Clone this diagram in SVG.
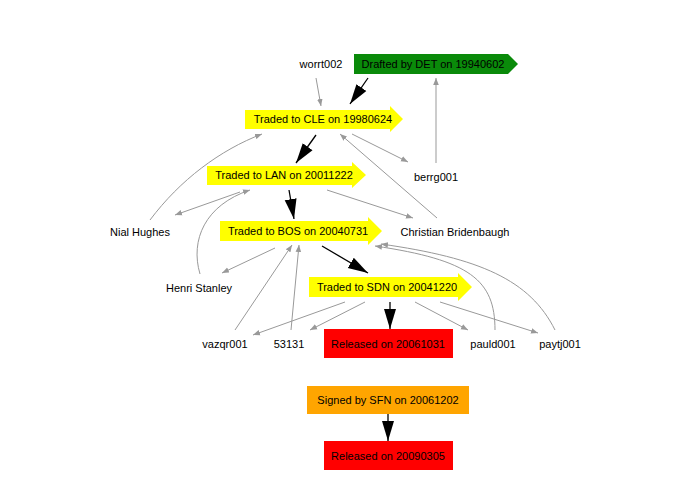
<svg xmlns="http://www.w3.org/2000/svg" width="695" height="494" viewBox="0 0 695 494">
<defs>
<style>
text{font-family:"Liberation Sans",Arial,sans-serif;font-size:11px;fill:#000;text-anchor:middle}
.t{stroke:#999;stroke-width:1;fill:none;marker-end:url(#a)}
.k{stroke:#000;stroke-width:1.3;fill:none;marker-end:url(#b)}
</style>
<marker id="a" viewBox="0 0 10 10" refX="10" refY="5" markerWidth="7" markerHeight="7" orient="auto" markerUnits="userSpaceOnUse"><path d="M0,1 L10,5 L0,9z" fill="#999"/></marker>
<marker id="b" viewBox="0 0 10 10" refX="10" refY="5" markerWidth="20" markerHeight="20" orient="auto" markerUnits="userSpaceOnUse"><path d="M0,2 L10,5 L0,8z" fill="#000"/></marker>
</defs>
<rect width="695" height="494" fill="#fff"/>
<g id="edges">
<line class="t" x1="316" y1="78" x2="321" y2="106"/>
<line class="t" x1="352" y1="134" x2="408" y2="162"/>
<line class="t" x1="436" y1="163" x2="436" y2="78"/>
<line class="t" x1="437" y1="218" x2="340" y2="134"/>
<path class="t" d="M150,220 C180,180 220,150 262,134"/>
<line class="t" x1="327" y1="190" x2="413" y2="218"/>
<path class="t" d="M200,274 C190,240 205,205 250,190"/>
<line class="t" x1="240" y1="192" x2="175" y2="215"/>
<line class="t" x1="275" y1="248" x2="222" y2="273"/>
<line class="t" x1="235" y1="330" x2="292" y2="245"/>
<line class="t" x1="291" y1="330" x2="299" y2="245"/>
<line class="t" x1="345" y1="302" x2="253" y2="335"/>
<line class="t" x1="365" y1="302" x2="310" y2="330"/>
<line class="t" x1="415" y1="302" x2="468" y2="330"/>
<line class="t" x1="440" y1="302" x2="538" y2="333"/>
<path class="t" d="M495,330 C495,280 470,260 375,246"/>
<path class="t" d="M555,330 C530,280 480,258 381,244"/>
<line class="k" x1="368" y1="78" x2="350" y2="104"/>
<line class="k" x1="316" y1="135" x2="296" y2="163"/>
<line class="k" x1="289" y1="190" x2="294" y2="219"/>
<line class="k" x1="322" y1="246" x2="368" y2="273"/>
<line class="k" x1="390" y1="302" x2="390" y2="329"/>
<line class="k" x1="388" y1="414" x2="388" y2="441"/>
</g>
<g id="worrt002"><text x="321" y="68">worrt002</text></g>
<g id="drafted"><polygon points="354,54 508,54 518,64 508,74 354,74" fill="#0a8a0a"/><text x="433" y="68">Drafted by  DET  on  19940602</text></g>
<g id="cle"><polygon points="245,110 390,110 390,106 403,119 390,132 390,129 245,129" fill="#ffff00"/><text x="323" y="123">Traded to  CLE  on  19980624</text></g>
<g id="berrg001"><text x="436" y="181">berrg001</text></g>
<g id="lan"><polygon points="207,166 352,166 352,162 366,175 352,188 352,185 207,185" fill="#ffff00"/><text x="284" y="179">Traded to  LAN  on  20011222</text></g>
<g id="nial"><text x="140" y="236">Nial Hughes</text></g>
<g id="christian"><text x="455" y="236">Christian Bridenbaugh</text></g>
<g id="bos"><polygon points="220,221 368,221 368,217 382,231 368,245 368,241 220,241" fill="#ffff00"/><text x="298" y="235">Traded to  BOS  on  20040731</text></g>
<g id="henri"><text x="199" y="292">Henri Stanley</text></g>
<g id="sdn"><polygon points="309,277 458,277 458,273 472,287 458,301 458,297 309,297" fill="#ffff00"/><text x="387" y="291">Traded to  SDN  on  20041220</text></g>
<g id="vazqr001"><text x="225" y="348">vazqr001</text></g>
<g id="n53131"><text x="289" y="348">53131</text></g>
<g id="rel1"><rect x="324" y="329" width="129" height="29" fill="#ff0000"/><text x="388" y="348">Released on  20061031</text></g>
<g id="pauld001"><text x="493" y="348">pauld001</text></g>
<g id="paytj001"><text x="560" y="348">paytj001</text></g>
<g id="signed"><rect x="307" y="386" width="162" height="28" fill="#ffa500"/><text x="388" y="404">Signed by  SFN  on  20061202</text></g>
<g id="rel2"><rect x="324" y="441" width="129" height="29" fill="#ff0000"/><text x="388" y="460">Released on  20090305</text></g>
</svg>
